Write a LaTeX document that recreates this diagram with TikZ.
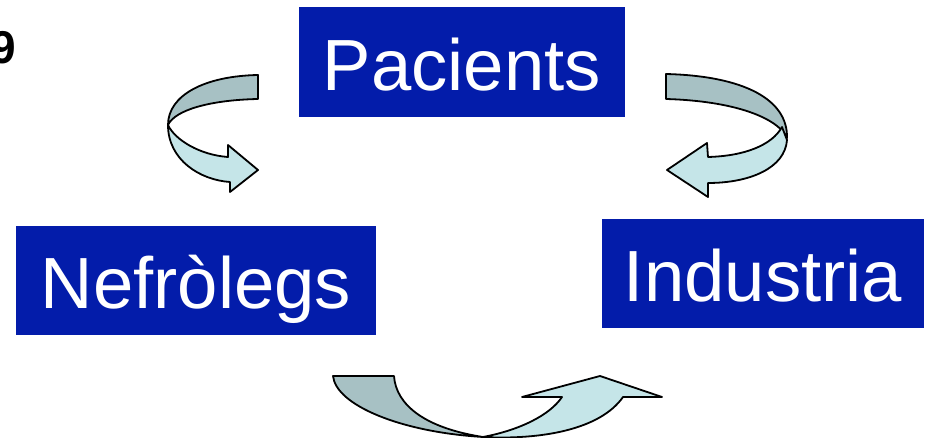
\documentclass[tikz,border=0pt]{standalone}
\usepackage{fontspec}
\setmainfont{Liberation Sans}
\usepackage{xcolor}
\usepackage{tikz}
\usetikzlibrary{positioning}

\definecolor{boxblue}{RGB}{3,28,170}
\definecolor{ribbondark}{RGB}{167,193,196}
\definecolor{ribbonlight}{RGB}{197,229,232}

\begin{document}
\begin{tikzpicture}[
    x=1pt, y=-1pt,
    actor/.style={rectangle, fill=boxblue, text=white, inner sep=0pt,
                  font=\fontsize{72.5}{72.5}\selectfont, text height=57pt, text depth=0pt,
                  minimum height=#1},
    actor/.default={110pt},
    ribbonback/.style={draw=black, line width=1.8pt, line join=round, fill=ribbondark},
    ribbonfront/.style={draw=black, line width=1.8pt, line join=round, fill=ribbonlight},
]
\useasboundingbox (0,0) rectangle (930,438);

\node[font=\bfseries\fontsize{46}{46}\selectfont, anchor=base east, inner sep=0pt] (corner) at (16,64) {9};

\node[actor, minimum width=326pt] (pacients) at (462,62) {Pacients};
\node[actor=109pt, minimum width=360pt] (nefrolegs) at (196,280.5) {Nefròlegs};
\node[actor=109pt, minimum width=322pt] (industria) at (763,273.5) {Industria};

% pacients -> nefrolegs
\draw[ribbonback] (258,75) .. controls (205,76) and (168,95) .. (168,125)
    .. controls (175,110) and (210,100) .. (258,99) -- cycle;
\draw[ribbonfront] (168,125) .. controls (168,160) and (200,180) .. (230,182)
    -- (230,192) -- (258,170) -- (228,145) -- (228,157)
    .. controls (200,155) and (175,140) .. (168,125) -- cycle;

% pacients -> industria
\draw[ribbonback] (666,74) .. controls (745,76) and (788,100) .. (787,138)
    .. controls (778,118) and (735,101) .. (666,99) -- cycle;
\draw[ribbonfront] (787,140) .. controls (785,168) and (750,183) .. (708,183)
    -- (708,197) -- (667,170) -- (707,143) -- (708,157)
    .. controls (745,156) and (772,145) .. (782,127) -- cycle;

% nefrolegs -> industria
\draw[ribbonback] (333,376) -- (394,376) .. controls (396,405) and (425,428) .. (483,437)
    .. controls (400,432) and (336,405) .. (333,376) -- cycle;
\draw[ribbonfront] (483,437) .. controls (520,430) and (550,415) .. (562,397)
    -- (522,397) -- (600,376) -- (662,397) -- (623,397)
    .. controls (600,430) and (540,440) .. (483,437) -- cycle;

\end{tikzpicture}
\end{document}
